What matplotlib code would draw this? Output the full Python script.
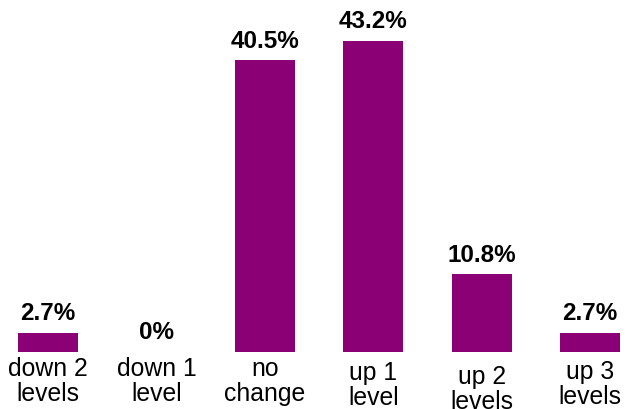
import numpy as np
import matplotlib
matplotlib.use("Agg")
import matplotlib.pyplot as plt
from matplotlib import transforms

categories = ["down 2\nlevels", "down 1\nlevel", "no\nchange", "up 1\nlevel", "up 2\nlevels", "up 3\nlevels"]
values = [2.7, 0.0, 40.5, 43.2, 10.8, 2.7]
value_labels = ["2.7%", "0%", "40.5%", "43.2%", "10.8%", "2.7%"]

# small vertical nudges (pixels) of the category labels, as in the original
label_drop = [5, 5, 5, 9, 13, 8]

plt.rcParams['font.family'] = ['Liberation Sans', 'DejaVu Sans']

fig = plt.figure(figsize=(6.27, 4.09), dpi=100)
ax = fig.add_axes([0, 57 / 409, 1, 352 / 409])

x = np.arange(len(values))
ax.bar(x, values, width=0.553, color='#8C0076')

ax.set_xlim(-48 / 108.4, 5 + 37 / 108.4)
ax.set_ylim(0, 352 / 7.2)
ax.axis('off')

for xi, v, lab in zip(x, values, value_labels):
    ax.annotate(lab, (xi, v), xytext=(0, 5.5), textcoords='offset points',
                ha='center', va='bottom', fontsize=17.5, fontweight='bold')

trans = transforms.blended_transform_factory(ax.transData, ax.transAxes)
for xi, cat, d in zip(x, categories, label_drop):
    ax.annotate(cat, (xi, 0), xycoords=trans, xytext=(0, -d * 0.72),
                textcoords='offset points', ha='center', va='top',
                fontsize=17.8, linespacing=1.05, annotation_clip=False)

fig.savefig("out.png", dpi=100)
